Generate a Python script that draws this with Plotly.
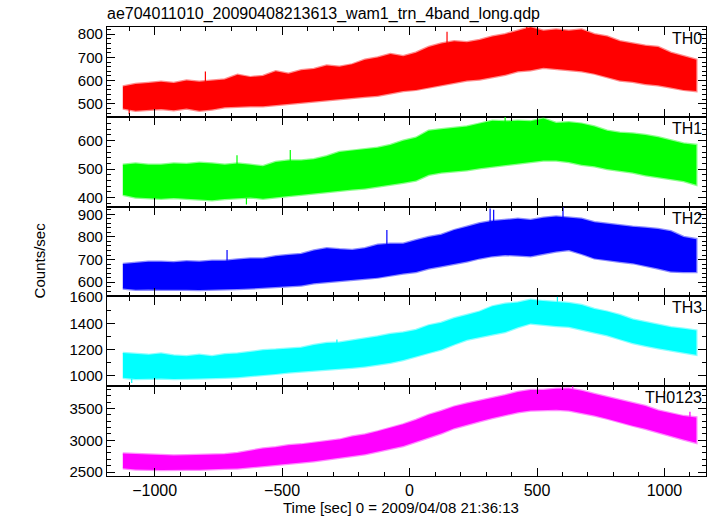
import plotly.graph_objects as go
from plotly.subplots import make_subplots

times = [-1125, -1075, -1025, -975, -925, -875, -825, -775, -725, -675,
         -625, -575, -525, -475, -425, -375, -325, -275, -225, -175,
         -125, -75, -25, 25, 75, 125, 175, 225, 275, 325,
         375, 425, 475, 525, 575, 625, 675, 725, 775, 825,
         875, 925, 975, 1025, 1075, 1125]

th0_hi = [575, 585, 590, 595, 590, 600, 595, 600, 605, 625,
          615, 620, 640, 630, 645, 650, 665, 660, 670, 690,
          700, 715, 705, 720, 745, 760, 770, 765, 775, 790,
          800, 815, 830, 815, 820, 815, 820, 800, 790, 770,
          760, 750, 745, 720, 705, 690]
th0_lo = [480, 470, 475, 478, 472, 480, 470, 475, 485, 488,
          490, 490, 495, 500, 505, 510, 515, 520, 525, 530,
          535, 545, 555, 560, 570, 580, 590, 600, 605, 615,
          625, 640, 645, 655, 650, 645, 640, 630, 615, 600,
          595, 585, 580, 570, 560, 555]

th1_hi = [515, 520, 515, 515, 520, 518, 522, 520, 515, 520,
          515, 510, 525, 530, 530, 535, 545, 560, 565, 570,
          575, 585, 600, 610, 635, 640, 645, 650, 660, 670,
          668, 670, 668, 678, 662, 665, 660, 650, 635, 628,
          625, 620, 612, 600, 590, 585]
th1_lo = [410, 400, 398, 396, 398, 395, 392, 390, 395, 398,
          400, 396, 400, 405, 410, 414, 418, 424, 428, 432,
          437, 445, 452, 460, 480, 488, 493, 496, 503, 510,
          515, 520, 525, 530, 530, 525, 515, 510, 500, 495,
          488, 478, 470, 465, 458, 445]

th2_hi = [680, 685, 690, 690, 688, 692, 690, 695, 695, 700,
          705, 705, 715, 720, 725, 740, 750, 745, 742, 750,
          765, 770, 770, 785, 800, 810, 830, 845, 860, 870,
          875, 880, 875, 885, 890, 885, 880, 865, 858, 850,
          845, 840, 835, 825, 800, 790]
th2_lo = [572, 566, 568, 566, 565, 566, 565, 568, 568, 570,
          572, 574, 578, 581, 585, 595, 603, 606, 610, 615,
          620, 628, 638, 645, 660, 670, 682, 691, 705, 715,
          720, 718, 715, 725, 735, 742, 725, 705, 698, 690,
          684, 672, 660, 647, 645, 645]

th3_hi = [1175, 1165, 1160, 1170, 1155, 1150, 1160, 1150, 1165, 1170,
          1185, 1195, 1200, 1210, 1215, 1235, 1250, 1255, 1270, 1280,
          1300, 1320, 1330, 1350, 1385, 1405, 1440, 1465, 1490, 1530,
          1550, 1560, 1580, 1570, 1565, 1555, 1540, 1510, 1490, 1465,
          1430, 1410, 1390, 1370, 1360, 1345]
th3_lo = [985, 975, 978, 980, 975, 978, 980, 980, 985, 990,
          1000, 1005, 1015, 1025, 1035, 1040, 1045, 1055, 1062, 1072,
          1085, 1100, 1120, 1145, 1175, 1200, 1240, 1275, 1295, 1315,
          1335, 1370, 1400, 1390, 1380, 1375, 1350, 1330, 1310, 1280,
          1250, 1230, 1210, 1195, 1175, 1160]

th0123_hi = [2790, 2780, 2770, 2760, 2760, 2765, 2770, 2770, 2780, 2800,
             2840, 2870, 2890, 2920, 2935, 2960, 2980, 3010, 3060, 3090,
             3140, 3190, 3250, 3320, 3400, 3460, 3530, 3580, 3620, 3670,
             3710, 3760, 3790, 3790, 3810, 3815, 3780, 3730, 3680, 3640,
             3590, 3540, 3470, 3420, 3380, 3360]
th0123_lo = [2560, 2540, 2535, 2530, 2530, 2535, 2535, 2540, 2550, 2555,
             2570, 2585, 2610, 2630, 2650, 2670, 2690, 2720, 2750, 2780,
             2820, 2865, 2910, 2980, 3040, 3110, 3190, 3240, 3300, 3350,
             3400, 3440, 3470, 3480, 3480, 3470, 3430, 3390, 3340, 3290,
             3230, 3180, 3120, 3070, 3010, 2960]

# isolated spikes: time, tip value, value where it leaves the band
th0_spike_t = [-801, 147, 460, -1100]
th0_spike_tip = [639, 810, 835, 455]
th0_spike_base = [595, 760, 810, 485]
th1_spike_t = [-677, -468, 375, -640]
th1_spike_tip = [549, 567, 685, 375]
th1_spike_base = [518, 525, 665, 398]
th2_spike_t = [-716, -89, 316, 602, 330]
th2_spike_tip = [742, 830, 926, 933, 920]
th2_spike_base = [695, 765, 865, 885, 868]
th3_spike_t = [-285, 580, -1090]
th3_spike_tip = [1278, 1603, 945]
th3_spike_base = [1250, 1565, 978]
th0123_spike_t = [640, 1100]
th0123_spike_tip = [3850, 3450]
th0123_spike_base = [3815, 3370]

band_names = ["TH0", "TH1", "TH2", "TH3", "TH0123"]
band_hi = [th0_hi, th1_hi, th2_hi, th3_hi, th0123_hi]
band_lo = [th0_lo, th1_lo, th2_lo, th3_lo, th0123_lo]
spike_t = [th0_spike_t, th1_spike_t, th2_spike_t, th3_spike_t, th0123_spike_t]
spike_tip = [th0_spike_tip, th1_spike_tip, th2_spike_tip, th3_spike_tip, th0123_spike_tip]
spike_base = [th0_spike_base, th1_spike_base, th2_spike_base, th3_spike_base, th0123_spike_base]
band_colors = ["#ff0000", "#00ff00", "#0000ff", "#00ffff", "#ff00ff"]
edge_colors = ["rgba(255,0,0,0.45)", "rgba(0,255,0,0.45)", "rgba(0,0,255,0.45)",
               "rgba(0,255,255,0.45)", "rgba(255,0,255,0.45)"]
y_ranges = [[444, 831], [368, 684], [537, 934], [921, 1606], [2437, 3851]]
y_dticks = [100, 100, 100, 200, 500]
y_minor = [20, 20, 20, 100, 100]

FONT = "Liberation Sans, Arial, Helvetica, sans-serif"

fig = make_subplots(rows=5, cols=1, shared_xaxes=True, vertical_spacing=0)

for i in range(5):
    xs = times + times[::-1]
    ys = band_hi[i] + band_lo[i][::-1]
    fig.add_trace(go.Scatter(x=xs, y=ys, mode="lines", fill="toself",
                             fillcolor=band_colors[i],
                             line=dict(color=edge_colors[i], width=2.5),
                             showlegend=False, hoverinfo="skip"),
                  row=i + 1, col=1)
    sx, sy = [], []
    for t, tip, base in zip(spike_t[i], spike_tip[i], spike_base[i]):
        sx += [t, t, None]
        sy += [base, tip, None]
    fig.add_trace(go.Scatter(x=sx, y=sy, mode="lines",
                             line=dict(color=band_colors[i], width=1.2),
                             showlegend=False, hoverinfo="skip"),
                  row=i + 1, col=1)
    fig.update_yaxes(range=y_ranges[i], dtick=y_dticks[i], tick0=0,
                     row=i + 1, col=1)
    fig.update_yaxes(minor=dict(dtick=y_minor[i], tick0=0, ticks="inside",
                                ticklen=4, tickcolor="black"),
                     row=i + 1, col=1)
    fig.add_annotation(text=band_names[i], xref=f"x{'' if i == 0 else i + 1} domain",
                       yref=f"y{'' if i == 0 else i + 1} domain",
                       x=1, y=1, xanchor="right", yanchor="top", xshift=-2, yshift=-1,
                       showarrow=False, font=dict(size=16, color="black", family=FONT))

fig.update_xaxes(range=[-1187, 1163], dtick=500, tick0=0, ticks="inside", ticklen=8,
                 tickcolor="black", showline=True, linecolor="black", linewidth=1.3,
                 mirror="allticks", showgrid=False, zeroline=False,
                 minor=dict(dtick=100, tick0=0, ticks="inside", ticklen=4, tickcolor="black"),
                 tickfont=dict(size=16, family=FONT, color="black"))
fig.update_yaxes(ticks="inside", ticklen=8, tickcolor="black", showline=True,
                 linecolor="black", linewidth=1.3, mirror="allticks", showgrid=False,
                 zeroline=False, tickfont=dict(size=15, family=FONT, color="black"))

fig.add_annotation(text="Counts/sec", xref="paper", yref="paper", x=-0.112, y=0.48,
                   textangle=-90, showarrow=False, xanchor="center", yanchor="middle",
                   font=dict(size=15, family=FONT, color="black"))
fig.add_annotation(text="Time [sec] 0 = 2009/04/08 21:36:13", xref="paper", yref="paper",
                   x=0.49, y=0, yshift=-31, showarrow=False, xanchor="center", yanchor="middle",
                   font=dict(size=15, family=FONT, color="black"))

fig.update_layout(
    width=717, height=516,
    margin=dict(l=107, r=11, t=27, b=40),
    paper_bgcolor="white", plot_bgcolor="white",
    title=dict(text="ae704011010_20090408213613_wam1_trn_4band_long.qdp",
               x=107 / 717, xanchor="left", y=1 - 13 / 516, yanchor="middle",
               font=dict(size=16, family=FONT, color="black")),
    showlegend=False,
)

fig.write_html("out.html", config={"displayModeBar": False},
               post_script="document.body.style.margin='0';")
